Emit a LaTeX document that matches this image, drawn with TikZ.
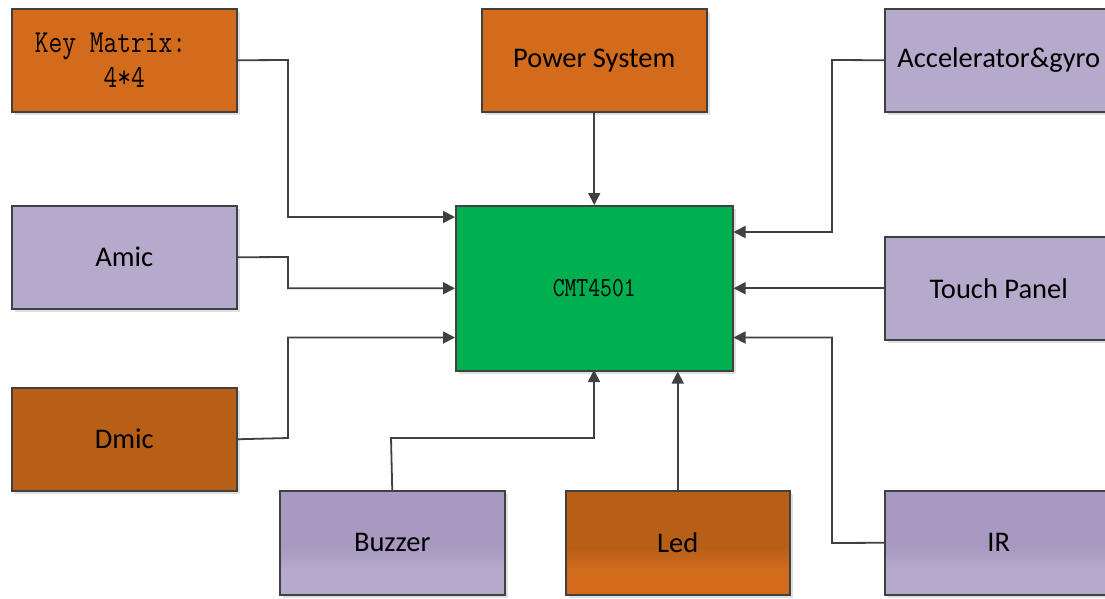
\documentclass[tikz,border=0pt]{standalone}
\usepackage{fontspec}
\setmainfont{Carlito}
\usetikzlibrary{arrows.meta,shadows}
\definecolor{orng}{HTML}{D26B1C}
\definecolor{dorng}{HTML}{B75F17}
\definecolor{lav}{HTML}{B5AACB}
\definecolor{dlav}{HTML}{A899C0}
\definecolor{grn}{HTML}{00AF50}
\definecolor{edge}{HTML}{404040}
\pgfdeclareverticalshading{lavshade}{100bp}{color(0bp)=(lav); color(37bp)=(lav); color(48bp)=(dlav); color(100bp)=(dlav)}
\pgfdeclareverticalshading{orshade}{100bp}{color(0bp)=(orng); color(37bp)=(orng); color(48bp)=(dorng); color(100bp)=(dorng)}
\tikzset{
  blk/.style={draw=edge, line width=1.5pt, inner sep=0pt,
    font=\fontsize{28.5}{34}\selectfont,
    drop shadow={shadow xshift=3pt, shadow yshift=-3pt, fill=black!12, opacity=1}},
  wire/.style={draw=edge, line width=1.8pt, -{Triangle[length=12pt,width=12pt]}},
  mono/.style={font=\fontsize{26.7}{32}\ttfamily}
}
\begin{document}
\begin{tikzpicture}[x=1pt,y=-1pt]
\useasboundingbox (0,0) rectangle (1105,598);
\clip (0,0) rectangle (1105,598);
% boxes
\node[blk, fill=orng, minimum width=225pt, minimum height=103pt, anchor=north west, align=center, mono] (key) at (11,8)
  {\scalebox{1}[1.2]{Key Matrix:\hphantom{xx}}\\[3pt]\scalebox{1}[1.2]{4*4}};
\node[blk, fill=orng, minimum width=225pt, minimum height=103pt, anchor=north west] (pwr) at (481,8) {Power System};
\node[blk, fill=lav, minimum width=228pt, minimum height=103pt, anchor=north west] (acc) at (884,8) {Accelerator\&gyro};
\node[blk, fill=lav, minimum width=225pt, minimum height=103pt, anchor=north west] (amic) at (11,205) {Amic};
\node[blk, fill=grn, minimum width=277pt, minimum height=165pt, anchor=north west, font=\fontsize{23}{28}\ttfamily] (cmt) at (455,205) {\scalebox{1}[1.2]{CMT4501}};
\node[blk, fill=lav, minimum width=228pt, minimum height=103pt, anchor=north west] (touch) at (884,236) {Touch Panel};
\node[blk, fill=dorng, minimum width=225pt, minimum height=103pt, anchor=north west] (dmic) at (11,387) {Dmic};
\node[blk, shading=lavshade, minimum width=225pt, minimum height=104pt, anchor=north west] (buz) at (279,490) {Buzzer};
\node[blk, shading=orshade, minimum width=224pt, minimum height=104pt, anchor=north west] (led) at (565,490) {Led};
\node[blk, shading=lavshade, minimum width=228pt, minimum height=104pt, anchor=north west] (ir) at (884,490) {IR};
% connectors
\draw[wire] (key.east) -- (288,60) |- ([yshift=-12pt]cmt.north west);
\draw[wire] (amic.east) -- (288,257) |- (cmt.west);
\draw[wire] (dmic.east) -- (288,438) |- ([yshift=34pt]cmt.south west);
\draw[wire] (pwr.south) -- (pwr.south |- cmt.north);
\draw[wire] (acc.west) -- (832,60) |- ([yshift=-27pt]cmt.north east);
\draw[wire] (touch.west) -- (cmt.east);
\draw[wire] (ir.west) -- (832,543) |- ([yshift=34pt]cmt.south east);
\draw[wire] (buz.north) -- (391,438) -| (594,370);
\draw[wire] (led.north) -- (led.north |- cmt.south);
\end{tikzpicture}
\end{document}
